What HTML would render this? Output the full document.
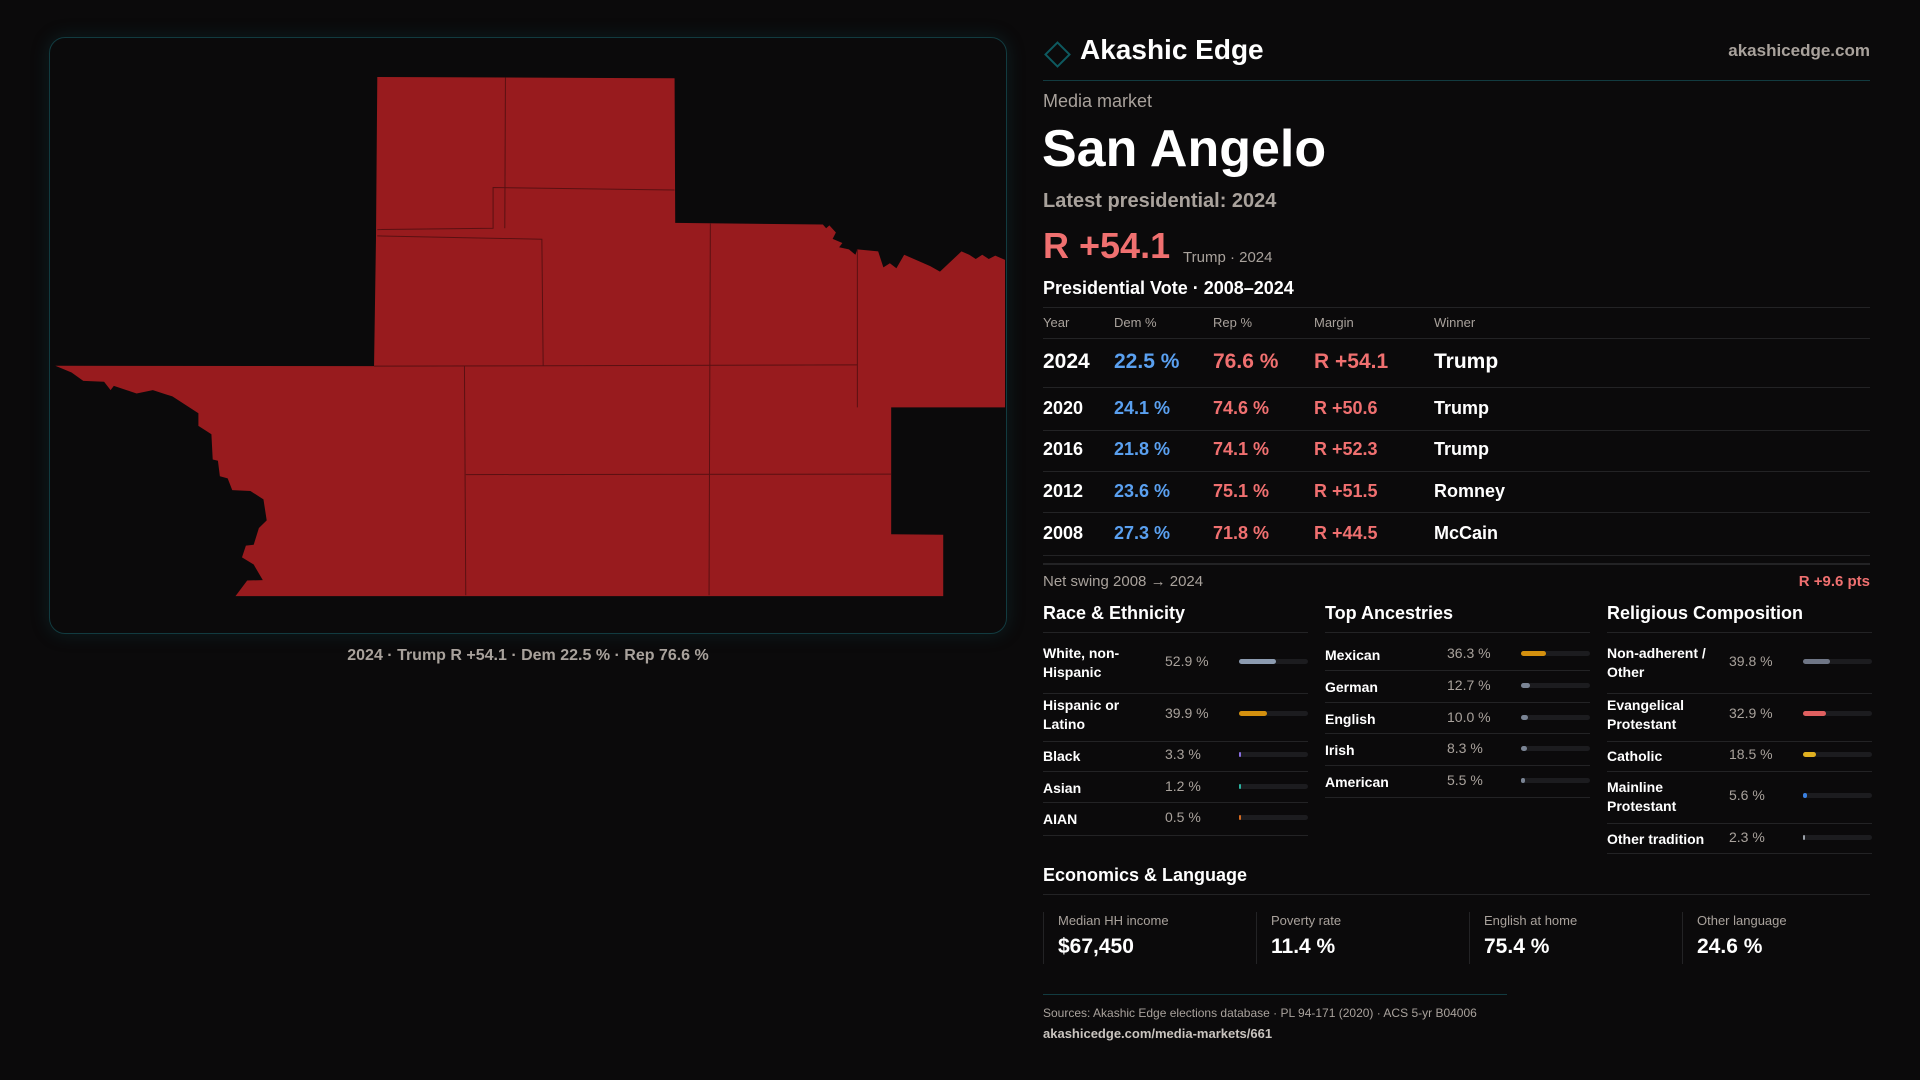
<!DOCTYPE html>
<html><head><meta charset="utf-8"><style>
*{margin:0;padding:0;box-sizing:border-box}
body{width:1920px;height:1080px;background:#0b0a0b;font-family:"Liberation Sans",sans-serif;color:#fff;position:relative;overflow:hidden}
.a{position:absolute;white-space:nowrap;line-height:1}
.hl{position:absolute;height:1px;background:#232325}
.g{color:#a9a29c}
</style></head><body>
<div style="position:absolute;left:49px;top:37px;width:958px;height:597px;border:1px solid #123b40;border-radius:16px;box-shadow:0 0 18px rgba(20,90,100,0.25)"></div>
<svg style="position:absolute;left:0;top:0" width="1020" height="660">
<g transform="translate(0,20.26) scale(0.6505,0.4203)">
<polygon fill="#981b1e" points="580,135 1037,138 1038,482 1265,486 1270,495 1275,488 1285,505 1280,520 1295,530 1290,540 1305,545 1315,558 1318,545 1350,550 1358,588 1368,578 1378,590 1390,558 1430,585 1445,598 1478,550 1490,558 1500,568 1510,558 1520,568 1530,560 1545,570 1545,921 1370,921 1370,1223 1450,1224 1450,1370 362,1370 380,1333 404,1332 390,1295 372,1278 378,1250 390,1248 398,1208 410,1190 405,1140 385,1120 357,1118 350,1090 338,1085 335,1048 327,1045 325,985 305,965 305,935 265,895 255,890 235,880 210,888 175,870 170,880 160,860 128,858 110,838 85,822 575,823 578,518 580,135"/>
<g stroke="#5a1012" stroke-width="1" fill="none">
<polyline vector-effect="non-scaling-stroke" points="777,136 776,495"/>
<polyline vector-effect="non-scaling-stroke" points="580,498 758,495 758,398 1037,404"/>
<polyline vector-effect="non-scaling-stroke" points="580,513 833,521 835,822"/>
<polyline vector-effect="non-scaling-stroke" points="1092,484 1090,1368"/>
<polyline vector-effect="non-scaling-stroke" points="1318,545 1318,921"/>
<polyline vector-effect="non-scaling-stroke" points="575,823 1318,820"/>
<polyline vector-effect="non-scaling-stroke" points="714,823 716,1368"/>
<polyline vector-effect="non-scaling-stroke" points="716,1081 1370,1080"/>
</g></g></svg>
<div class="a g" style="left:528px;top:648px;width:0;display:flex;justify-content:center;font-size:16px;font-weight:bold"><span style="white-space:nowrap">2024 · Trump R +54.1 · Dem 22.5 % · Rep 76.6 %</span></div>

<div style="position:absolute;left:1048px;top:45px;width:19px;height:19px;border:2px solid #0e5a60;transform:rotate(45deg)"></div>
<div class="a" style="left:1080px;top:36px;font-size:28px;font-weight:bold">Akashic Edge</div>
<div class="a g" style="right:50px;top:42px;font-size:17px;font-weight:bold">akashicedge.com</div>
<div class="hl" style="left:1043px;width:827px;top:80px;background:#123b40"></div>
<div class="a g" style="left:1043px;top:92px;font-size:18px">Media market</div>
<div class="a" style="left:1042px;top:123px;font-size:52px;font-weight:bold">San Angelo</div>
<div class="a g" style="left:1043px;top:191px;font-size:20px;font-weight:bold">Latest presidential: 2024</div>
<div class="a" style="left:1043px;top:228px;font-size:36px;font-weight:bold;color:#f07070">R +54.1</div>
<div class="a g" style="left:1183px;top:250px;font-size:15px">Trump · 2024</div>
<div class="a" style="left:1043px;top:279px;font-size:18px;font-weight:bold">Presidential Vote · 2008–2024</div>
<div class="hl" style="left:1043px;width:827px;top:307px"></div>
<div class="hl" style="left:1043px;width:827px;top:563px;height:2px"></div>
<div class="a g" style="left:1043px;top:574px;font-size:15px">Net swing 2008 → 2024</div>
<div class="a" style="right:50px;top:574px;font-size:15px;font-weight:bold;color:#f07070">R +9.6 pts</div>
<div class="a" style="left:1043px;top:866px;font-size:18px;font-weight:bold">Economics &amp; Language</div>
<div class="hl" style="left:1043px;width:827px;top:894px"></div>
<div class="hl" style="left:1043px;width:464px;top:994px;background:#123b40"></div>
<div class="a g" style="left:1043px;top:1007px;font-size:12px">Sources: Akashic Edge elections database · PL 94-171 (2020) · ACS 5-yr B04006</div>
<div class="a" style="left:1043px;top:1027px;font-size:13px;font-weight:bold;color:#c9c4bf">akashicedge.com/media-markets/661</div>
<script>
const years=['2024','2020','2016','2012','2008'];
const demPct=[22.5,24.1,21.8,23.6,27.3];
const repPct=[76.6,74.6,74.1,75.1,71.8];
const margins=['R +54.1','R +50.6','R +52.3','R +51.5','R +44.5'];
const winners=['Trump','Trump','Trump','Romney','McCain'];
const raceLabels=['White, non-<br>Hispanic','Hispanic or<br>Latino','Black','Asian','AIAN'];
const raceValues=[52.9,39.9,3.3,1.2,0.5];
const raceColors=['#8c9bb0','#d4900e','#8a6fe0','#2bb3a0','#d46a20'];
const ancLabels=['Mexican','German','English','Irish','American'];
const ancValues=[36.3,12.7,10.0,8.3,5.5];
const ancColors=['#d4900e','#7a8494','#7a8494','#7a8494','#7a8494'];
const relLabels=['Non-adherent /<br>Other','Evangelical<br>Protestant','Catholic','Mainline<br>Protestant','Other tradition'];
const relValues=[39.8,32.9,18.5,5.6,2.3];
const relColors=['#6f7686','#e06060','#e0b020','#3a80e0','#9aa0a8'];
const econLabels=['Median HH income','Poverty rate','English at home','Other language'];
const econValues=['$67,450','11.4 %','75.4 %','24.6 %'];

function mk(parent,css,html){const d=document.createElement('div');d.className='a';d.style.cssText=css;if(html!==undefined)d.innerHTML=html;parent.appendChild(d);return d;}
const B=document.body;
const cols=[1043,1114,1213,1314,1434];
const heads=['Year','Dem %','Rep %','Margin','Winner'];
heads.forEach((h,i)=>{const e=mk(B,`left:${cols[i]}px;top:316px;font-size:13px;color:#a9a29c`,h);

});
const hl0=mk(B,'left:1043px;width:827px;top:338px;height:1px;background:#232325');hl0.className='hl';
const rowY=[361,408,449,491,533];
const lineY=[387,430,471,512,555];
years.forEach((y,i)=>{
 const fs=i===0?21:18;const top=rowY[i]-fs/2;
 const cells=[[y,'#fff'],[demPct[i].toFixed(1)+' %','#5aa0f0'],[repPct[i].toFixed(1)+' %','#f07070'],[margins[i],'#f07070'],[winners[i],'#fff']];
 cells.forEach((c,j)=>{const e=mk(B,`left:${cols[j]}px;top:${top}px;font-size:${fs}px;font-weight:bold;color:${c[1]}`,c[0]);
 
 });
 const l=mk(B,`left:1043px;width:827px;top:${lineY[i]}px;height:1px;background:#232325`);l.className='hl';
});
function section(x,title,labels,values,colors,ys,lines,key){
 const t=mk(B,`left:${x}px;top:604px;font-size:18px;font-weight:bold`,title);
 
 
 const l0=mk(B,`left:${x}px;width:265px;top:632px;height:1px;background:#232325`);l0.className='hl';
 labels.forEach((lab,i)=>{
  const two=lab.indexOf('<br>')>=0;
  const lb=mk(B,`left:${x}px;top:${ys[i]-(two?18:8)}px;font-size:14px;font-weight:bold;line-height:19px`,lab);
  
  
  const v=mk(B,`left:${x+122}px;top:${ys[i]-8}px;font-size:14px;color:#a9a29c`,values[i].toFixed(1)+' %');
  
  
  const tr=mk(B,`left:${x+196}px;top:${ys[i]-3}px;width:69px;height:5px;border-radius:3px;background:#1c1c1f`);
  
  
  const f=mk(tr,`left:0;top:0;height:5px;border-radius:3px;width:${Math.max(1.5,69*values[i]/100)}px;background:${colors[i]}`);
  
  
  const l=mk(B,`left:${x}px;width:265px;top:${lines[i]}px;height:1px;background:#232325`);l.className='hl';
 });
}
section(1043,'Race &amp; Ethnicity',raceLabels,raceValues,raceColors,[662,714,755,787,818],[693,741,771,802,835],'race');
section(1325,'Top Ancestries',ancLabels,ancValues,ancColors,[654,686,718,749,781],[670,702,733,765,797],'ancestry');
section(1607,'Religious Composition',relLabels,relValues,relColors,[662,714,755,796,838],[693,741,771,823,853],'religion');
econLabels.forEach((lab,i)=>{
 const x=1043+i*213;
 const c=mk(B,`left:${x}px;top:912px;width:1px;height:52px;background:#232325`);
 
 
 const l=mk(B,`left:${x+15}px;top:914px;font-size:13px;color:#a9a29c`,lab);
 
 
 const v=mk(B,`left:${x+15}px;top:936px;font-size:21px;font-weight:bold`,econValues[i]);
 
 
});
</script>
</body></html>
